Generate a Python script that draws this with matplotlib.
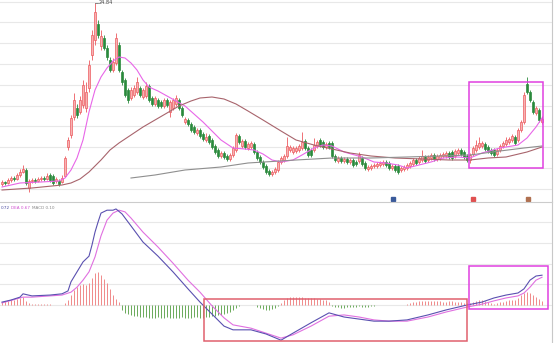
import numpy as np
import matplotlib
matplotlib.use('Agg')
import matplotlib.pyplot as plt
import matplotlib.transforms as mtransforms
from matplotlib.patches import Rectangle

# --- данные свечей (цены, читаются с картинки) ---
open_ = [6.7, 6.9, 6.8, 7.1, 7.3, 7.2, 7.6, 7.9, 8.1, 6.3,
         7.0, 7.1, 7.0, 7.2, 7.3, 7.2, 7.6, 7.5, 7.0, 7.0,
         6.9, 7.5, 10.4, 11.6, 13.4, 14.3, 13.9, 14.6, 14.3, 16.3,
         19.6, 21.1, 22.7, 20.5, 21.3, 20.3, 19.1, 18.1, 18.8, 20.6,
         17.9, 17.1, 16.1, 15.3, 15.6, 15.9, 16.3, 15.4, 15.5, 16.5,
         15.3, 14.7, 15.1, 14.9, 14.5, 15.1, 13.9, 14.3, 14.7, 15.1,
         14.3, 12.9, 13.1, 12.7, 12.4, 11.8, 12.1, 11.7, 11.1, 11.5,
         11.1, 10.5, 10.1, 9.5, 9.8, 9.5, 9.2, 9.6, 10.1, 11.5,
         10.5, 11.0, 10.3, 10.4, 10.7, 9.9, 9.4, 8.9, 8.5, 8.0,
         7.7, 7.9, 8.1, 8.9, 9.1, 9.5, 10.1, 9.9, 10.0, 10.1,
         10.3, 11.0, 10.3, 10.1, 10.1, 10.5, 11.1, 10.9, 10.4, 10.8,
         10.8, 9.5, 9.0, 9.3, 9.0, 9.2, 8.9, 9.1, 8.9, 9.0,
         9.3, 8.8, 8.2, 8.3, 8.5, 8.5, 8.6, 8.7, 8.9, 8.8,
         8.3, 8.5, 8.5, 8.1, 8.2, 8.3, 8.5, 8.7, 9.1, 8.9,
         9.1, 9.4, 9.1, 9.3, 9.6, 9.2, 9.3, 9.5, 9.5, 9.8,
         9.9, 9.5, 9.8, 10.1, 9.9, 9.5, 9.1, 9.7, 10.1, 10.4,
         10.5, 10.7, 10.4, 10.1, 10.1, 9.7, 10.1, 10.5, 10.7, 10.9,
         11.1, 11.4, 11.1, 12.1, 12.9, 16.7, 15.9, 14.9, 13.8, 14.1, 12.9]
close = [6.9, 6.8, 7.1, 7.3, 7.2, 7.6, 7.9, 8.2, 6.8, 7.0,
         7.1, 7.0, 7.2, 7.3, 7.2, 7.5, 7.1, 6.8, 7.2, 6.7,
         7.3, 9.3, 11.1, 13.3, 15.1, 13.6, 15.1, 16.6, 15.9, 18.6,
         21.6, 23.9, 21.6, 21.5, 20.3, 19.4, 18.1, 18.9, 21.3, 18.1,
         16.9, 15.6, 15.1, 16.1, 16.3, 16.9, 15.6, 16.1, 16.5, 15.1,
         14.7, 15.3, 14.5, 14.5, 15.1, 14.6, 14.9, 15.1, 15.3, 14.3,
         13.6, 13.2, 12.7, 12.1, 11.9, 12.1, 11.5, 11.2, 11.4, 10.9,
         10.4, 9.9, 9.5, 9.8, 9.4, 9.2, 9.6, 10.3, 11.6, 10.9,
         11.0, 10.4, 10.7, 10.8, 9.9, 9.3, 8.9, 8.4, 7.9, 7.7,
         7.9, 8.2, 8.9, 9.3, 9.5, 10.5, 10.4, 10.3, 10.3, 10.5,
         10.9, 10.3, 9.6, 9.6, 10.6, 10.9, 10.6, 10.4, 10.7, 10.4,
         9.5, 9.1, 9.3, 9.0, 9.2, 8.9, 9.1, 8.6, 8.7, 9.6,
         8.7, 8.3, 8.4, 8.5, 8.6, 8.7, 8.8, 8.9, 8.6, 8.3,
         8.5, 8.1, 7.9, 8.3, 8.4, 8.6, 8.8, 9.1, 8.8, 9.3,
         9.5, 9.0, 9.4, 9.6, 9.2, 9.5, 9.6, 9.7, 9.8, 9.4,
         9.3, 10.0, 10.1, 9.7, 9.4, 9.1, 9.6, 10.3, 10.6, 10.8,
         10.8, 10.2, 10.0, 9.8, 9.6, 10.1, 10.5, 10.8, 11.1, 11.2,
         11.5, 10.8, 12.1, 12.9, 15.6, 15.9, 15.1, 13.9, 14.3, 13.1, 13.2]
high = [7.1, 7.0, 7.3, 7.5, 7.5, 7.8, 8.2, 8.6, 8.3, 7.2,
        7.3, 7.3, 7.4, 7.5, 7.5, 7.8, 7.8, 7.7, 7.4, 7.2,
        7.6, 9.5, 11.4, 13.6, 15.8, 14.7, 15.5, 17.1, 16.9, 19.1,
        22.1, 24.84, 23.1, 22.1, 21.6, 20.6, 19.4, 19.3, 21.8, 20.9,
        18.1, 17.3, 16.3, 16.4, 16.6, 17.4, 16.5, 16.3, 16.9, 16.7,
        15.5, 15.5, 15.3, 15.1, 15.3, 15.3, 15.1, 15.3, 15.6, 15.3,
        14.5, 13.4, 13.3, 12.9, 12.6, 12.3, 12.3, 11.9, 11.8, 11.7,
        11.3, 10.7, 10.3, 10.0, 10.0, 9.7, 9.8, 10.5, 11.8, 11.7,
        11.2, 11.2, 10.9, 11.0, 10.9, 10.1, 9.6, 9.1, 8.7, 8.2,
        8.1, 8.4, 9.1, 9.5, 9.7, 11.4, 10.6, 10.5, 10.5, 10.7,
        11.9, 11.2, 10.5, 10.3, 11.3, 11.1, 11.3, 11.1, 10.9, 11.0,
        11.0, 9.7, 9.5, 9.5, 9.4, 9.4, 9.3, 9.3, 9.1, 9.9,
        9.5, 9.0, 8.6, 8.7, 8.8, 8.9, 9.0, 9.1, 9.1, 9.0,
        8.7, 8.7, 8.7, 8.5, 8.6, 8.8, 9.0, 9.3, 9.3, 9.5,
        10.1, 9.6, 9.6, 9.8, 9.8, 9.7, 9.8, 9.9, 10.0, 10.0,
        10.1, 10.2, 10.3, 10.3, 10.1, 9.7, 9.8, 10.5, 11.1, 11.4,
        11.0, 10.9, 10.6, 10.3, 10.3, 10.3, 10.7, 11.0, 11.4, 11.4,
        11.7, 11.6, 12.3, 13.1, 15.9, 17.4, 16.1, 15.1, 14.5, 14.3, 13.5]
low = [6.5, 6.6, 6.7, 6.9, 7.0, 7.1, 7.4, 7.8, 6.6, 5.9,
       6.8, 6.8, 6.9, 7.0, 7.0, 7.1, 6.9, 6.6, 6.8, 6.5,
       6.8, 7.4, 10.1, 11.3, 13.1, 13.3, 13.7, 14.3, 13.9, 15.9,
       19.1, 20.6, 21.3, 20.1, 20.1, 19.1, 17.9, 17.9, 18.6, 17.9,
       16.6, 15.4, 14.8, 15.1, 15.4, 15.7, 15.4, 15.2, 15.3, 14.9,
       14.5, 14.5, 14.3, 14.3, 14.3, 14.4, 13.4, 14.1, 14.5, 14.1,
       13.4, 12.7, 12.5, 11.9, 11.7, 11.6, 11.3, 11.0, 10.9, 10.7,
       10.2, 9.7, 9.3, 9.3, 9.2, 9.0, 9.0, 9.4, 9.9, 10.7,
       10.3, 10.2, 10.1, 10.2, 9.7, 9.1, 8.7, 8.2, 7.7, 7.5,
       7.5, 7.7, 7.9, 8.7, 8.9, 9.3, 9.9, 9.7, 9.8, 9.9,
       10.1, 10.1, 9.4, 9.4, 9.9, 10.3, 10.4, 10.2, 10.2, 10.2,
       9.3, 8.9, 8.8, 8.8, 8.8, 8.7, 8.7, 8.4, 8.5, 8.8,
       8.5, 8.1, 8.0, 8.1, 8.3, 8.3, 8.4, 8.5, 8.4, 8.1,
       8.1, 7.9, 7.7, 7.9, 8.0, 8.1, 8.3, 8.5, 8.6, 8.7,
       8.9, 8.8, 8.9, 9.1, 9.0, 9.0, 9.1, 9.3, 9.3, 9.2,
       9.1, 9.3, 9.6, 9.5, 9.2, 8.9, 8.8, 9.5, 9.9, 10.2,
       10.3, 10.0, 9.8, 9.6, 9.4, 9.5, 9.9, 10.3, 10.5, 10.7,
       10.9, 10.6, 10.9, 11.9, 12.7, 15.7, 14.9, 13.7, 13.6, 12.9, 12.7]

# --- скользящие средние (точки) ---
ma_fast_idx = [0, 6, 13, 19, 21, 23, 25, 27, 29, 31, 33, 35, 37, 39, 41, 43, 45, 47, 49,
               52, 55, 58, 61, 64, 67, 70, 73, 77, 81, 84, 87, 90, 93, 97, 100, 104, 107,
               110, 114, 120, 124, 128, 132, 135, 139, 143, 147, 152, 156, 160, 166, 172,
               175, 178, 180]
ma_fast = [6.4, 6.8, 6.9, 7.0, 7.3, 8.1, 9.3, 11.1, 13.9, 16.1, 17.4, 18.3, 19.0, 19.4, 19.3,
           18.8, 18.1, 17.1, 16.4, 16.0, 15.5, 15.0, 14.5, 13.7, 12.9, 12.0, 11.1, 10.3, 10.2,
           10.1, 9.7, 9.1, 8.9, 9.1, 9.6, 10.3, 10.6, 10.5, 9.9, 9.4, 8.9, 8.8, 8.6, 8.3, 8.6,
           8.9, 9.3, 9.4, 9.3, 9.8, 10.3, 10.6, 11.3, 12.4, 13.3]
ma_mid_idx = [0, 10, 20, 23, 26, 29, 31, 33, 36, 39, 43, 47, 51, 55, 59, 63, 66, 70, 74, 78,
              82, 87, 93, 98, 104, 110, 116, 123, 131, 140, 149, 156, 162, 168, 175, 180]
ma_mid = [6.1, 6.3, 6.6, 6.8, 7.2, 7.9, 8.5, 9.1, 10.1, 10.8, 11.6, 12.4, 13.1, 13.8, 14.5,
          15.0, 15.3, 15.4, 15.2, 14.7, 14.0, 13.1, 12.0, 11.1, 10.6, 10.2, 9.8, 9.5, 9.3,
          9.2, 9.1, 9.1, 9.3, 9.4, 9.9, 10.4]
ma_long_idx = [43, 51, 61, 73, 82, 98, 110, 123, 135, 146, 156, 166, 174, 180]
ma_long = [7.3, 7.6, 8.1, 8.4, 8.8, 9.1, 9.3, 9.3, 9.4, 9.5, 9.6, 10.0, 10.3, 10.5]

# --- MACD ---
macd_hist = [0.07, 0.10, 0.10, 0.12, 0.12, 0.14, 0.17, 0.19,
             0.10, 0.05, 0.02, 0.02,
             0.02, 0.02, 0.02, 0.02, 0.02, 0.01, 0.01, 0.01, 0.01,
             0.05, 0.12, 0.24, 0.36, 0.43, 0.48, 0.51, 0.48, 0.53, 0.65,
             0.77, 0.80, 0.72, 0.63, 0.53, 0.39, 0.24, 0.14, 0.07,
             -0.12, -0.19, -0.22, -0.24, -0.27, -0.27, -0.29, -0.29, -0.29, -0.31,
             -0.31, -0.31, -0.29, -0.31, -0.31, -0.29, -0.31, -0.31, -0.31, -0.31, -0.29, -0.31, -0.31,
             -0.31, -0.29, -0.29, -0.31,
             -0.31, -0.29, -0.29, -0.27, -0.27, -0.24, -0.24, -0.22, -0.19, -0.17, -0.12, -0.07, -0.02,
             -0.01, -0.01, -0.01, -0.01, -0.01,
             -0.05, -0.07, -0.10, -0.12, -0.12, -0.10, -0.07, -0.02,
             0.05, 0.12, 0.17, 0.19, 0.19, 0.19, 0.19, 0.19, 0.17, 0.17, 0.17, 0.17, 0.14, 0.14,
             0.12, 0.12, 0.07,
             -0.02, -0.05, -0.05, -0.07, -0.07, -0.05, -0.05, -0.05, -0.05, -0.02, -0.05, -0.05,
             -0.05, -0.02, -0.02,
             -0.01, 0.01, 0.01, 0.01, -0.01, -0.01, 0.01, 0.01, 0.01, 0.01, 0.02,
             0.05, 0.07, 0.07, 0.10, 0.10, 0.10, 0.10, 0.10, 0.10, 0.10, 0.10, 0.07, 0.07, 0.10,
             0.10, 0.07, 0.07, 0.07, 0.05, 0.05, 0.05,
             0.07, 0.10, 0.12, 0.12, 0.10, 0.07, 0.05, 0.02, 0.05, 0.07, 0.07,
             0.10, 0.12, 0.12, 0.12, 0.17, 0.24, 0.29, 0.31, 0.29, 0.24, 0.19, 0.14, 0.10]
dif_idx = [0, 3, 6, 7, 10, 16, 20, 22, 23, 25, 27, 29, 30, 31, 32, 33, 35, 37, 38, 40, 43,
           47, 52, 57, 62, 66, 70, 74, 77, 83, 88, 93, 97, 103, 109, 114, 119, 124, 129,
           135, 142, 148, 155, 160, 164, 168, 172, 174, 176, 178, 180]
dif = [0.07, 0.12, 0.19, 0.27, 0.22, 0.24, 0.27, 0.34, 0.56, 0.80, 1.04, 1.18, 1.45, 1.76,
       2.00, 2.22, 2.29, 2.29, 2.32, 2.20, 1.91, 1.52, 1.18, 0.80, 0.39, 0.07, -0.22, -0.51,
       -0.60, -0.60, -0.70, -0.85, -0.68, -0.43, -0.19, -0.29, -0.34, -0.39, -0.39, -0.36,
       -0.24, -0.12, 0.0, 0.07, 0.17, 0.24, 0.29, 0.39, 0.60, 0.70, 0.72]
dea_idx = [0, 7, 10, 20, 23, 25, 27, 29, 31, 33, 35, 37, 39, 41, 43, 47, 52, 57, 62, 66, 70,
           74, 77, 83, 88, 93, 97, 103, 109, 114, 119, 124, 129, 135, 142, 148, 155, 160,
           164, 168, 172, 174, 176, 178, 180]
dea = [0.05, 0.19, 0.19, 0.24, 0.31, 0.43, 0.60, 0.80, 1.16, 1.67, 2.05, 2.22, 2.29, 2.25,
       2.10, 1.76, 1.40, 1.01, 0.60, 0.31, -0.02, -0.31, -0.48, -0.56, -0.68, -0.80, -0.72,
       -0.51, -0.27, -0.24, -0.29, -0.36, -0.39, -0.39, -0.29, -0.17, -0.05, 0.02, 0.10,
       0.17, 0.22, 0.29, 0.43, 0.60, 0.67]

# --- отметки событий внизу ценового окна ---
event_idx = [130.3, 157.0, 175.3]
event_colors = ['#3a5a9a', '#e05050', '#b07050']

assert len(open_) == len(close) == len(high) == len(low) == len(macd_hist)

RED = '#ec5a5f'
RED_FILL = '#f7b2b2'
GREEN = '#2a8a3c'
GRID = '#e8e8e8'

W, H = 554, 343
fig = plt.figure(figsize=(W / 100, H / 100), dpi=100)
ax_w = 552 / W
ax1 = fig.add_axes([0, (H - 202) / H, ax_w, 202 / H])
ax2 = fig.add_axes([0, 0, ax_w, 141 / H])

n = len(close)
x = np.arange(n)
xlim = (-2 / 3, 550 / 3)

# --- ценовое окно ---
for g in np.arange(24.95, 5.0, -2.08):
    ax1.axhline(g, color=GRID, lw=0.8, zorder=0)

o = np.array(open_)
c = np.array(close)
up = c >= o
body_lo = np.minimum(o, c)
body_h = np.maximum(np.abs(c - o), 0.06)
ax1.vlines(x[up], np.array(low)[up], np.array(high)[up], color=RED, lw=0.6, zorder=2)
ax1.vlines(x[~up], np.array(low)[~up], np.array(high)[~up], color=GREEN, lw=0.6, zorder=2)
ax1.bar(x[up], body_h[up], bottom=body_lo[up], width=0.62, facecolor=RED_FILL,
        edgecolor=RED, linewidth=0.5, zorder=2)
ax1.bar(x[~up], body_h[~up], bottom=body_lo[~up], width=0.62, facecolor=GREEN,
        edgecolor=GREEN, linewidth=0.5, zorder=2)

ax1.plot(ma_fast_idx, ma_fast, color='#e866e8', lw=0.8, zorder=3)
ax1.plot(ma_mid_idx, ma_mid, color='#a8646c', lw=0.8, zorder=3)
ax1.plot(ma_long_idx, ma_long, color='#8f8f8f', lw=0.8, zorder=3)

# подпись максимума
i_max = int(np.argmax(high))
ax1.plot([i_max, i_max + 1.1], [high[i_max], high[i_max]], color='#555555', lw=0.5)
ax1.text(i_max + 1.3, high[i_max], '%.2f' % high[i_max], fontsize=3.6, color='#444444',
         va='center', ha='left')

# рамка-выделение
ax1.add_patch(Rectangle((155.7, 8.3), 24.6, 8.6, fill=False, edgecolor='#e040e0',
                        lw=1.1, zorder=4))

trans = mtransforms.blended_transform_factory(ax1.transData, ax1.transAxes)
for ei, ec in zip(event_idx, event_colors):
    ax1.plot([ei], [0.014], marker='s', ms=3.2, color=ec, transform=trans,
             clip_on=False, zorder=5)

ax1.set_xlim(*xlim)
ax1.set_ylim(4.9, 25.1)

# --- окно MACD ---
for g in [0.0, 0.5, 1.0, 1.5, 2.0]:
    ax2.axhline(g, color=GRID, lw=0.8, zorder=0)
hist = np.array(macd_hist)
ax2.vlines(x[hist >= 0], 0, hist[hist >= 0], color='#f08a8a', lw=0.7, zorder=2)
ax2.vlines(x[hist < 0], 0, hist[hist < 0], color='#6aaa5a', lw=0.7, zorder=2)
ax2.plot(dea_idx, dea, color='#e070e0', lw=0.8, zorder=3)
ax2.plot(dif_idx, dif, color='#5a50b0', lw=0.8, zorder=3)

ax2.add_patch(Rectangle((67.3, -0.87), 87.7, 1.01, fill=False, edgecolor='#e0606e',
                        lw=1.1, zorder=4))
ax2.add_patch(Rectangle((155.7, -0.10), 26.3, 1.04, fill=False, edgecolor='#e040e0',
                        lw=1.1, zorder=4))

# строка значений MACD
ax2.text(0.5 / 552, 0.975, '%.2f' % dif[-1], transform=ax2.transAxes, fontsize=3.0,
         color='#4a4aa0', va='top', ha='left')
ax2.text(11 / 552, 0.975, 'DEA %.2f' % dea[-1], transform=ax2.transAxes, fontsize=3.0,
         color='#d050d0', va='top', ha='left')
ax2.text(32 / 552, 0.975, 'MACD %.2f' % macd_hist[-1], transform=ax2.transAxes, fontsize=3.0,
         color='#888888', va='top', ha='left')

ax2.set_xlim(*xlim)
ax2.set_ylim(-0.918, 2.488)

for ax in (ax1, ax2):
    ax.set_xticks([])
    ax.set_yticks([])
    for s in ('left', 'bottom', 'top'):
        ax.spines[s].set_visible(False)
    ax.spines['right'].set_color('#c8c8c8')
    ax.spines['right'].set_linewidth(0.8)
ax2.spines['top'].set_visible(True)
ax2.spines['top'].set_color('#cccccc')
ax2.spines['top'].set_linewidth(0.8)

fig.savefig('out.png', dpi=100)
